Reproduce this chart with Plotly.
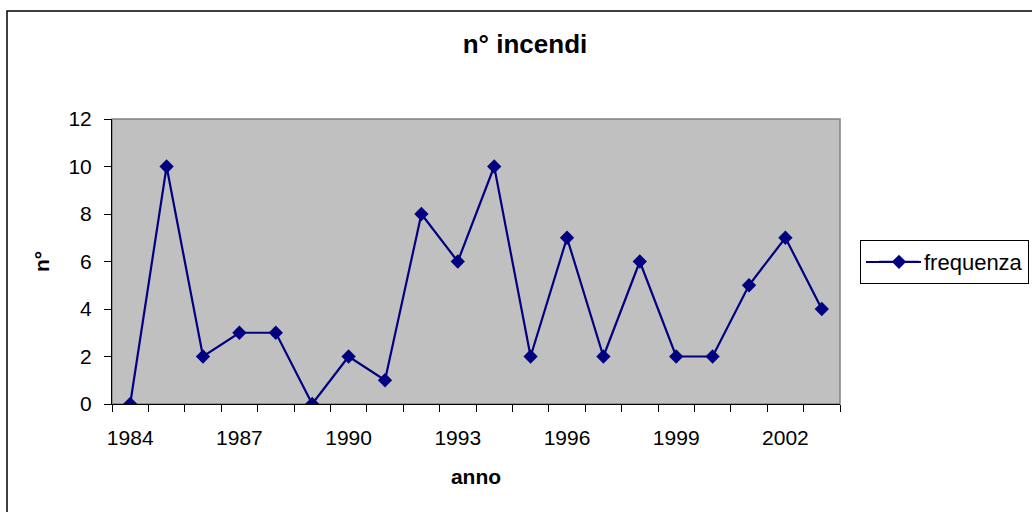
import plotly.graph_objects as go

years = list(range(1984, 2004))
frequenza = [0, 10, 2, 3, 3, 0, 2, 1, 8, 6, 10, 2, 7, 2, 6, 2, 2, 5, 7, 4]
label_years = years[::3]
y_ticks = [0, 2, 4, 6, 8, 10, 12]

title_text = "n° incendi"
x_title = "anno"
y_title = "n°"
series_name = "frequenza"

FONT = "Liberation Sans, Arial, sans-serif"
NAVY = "#000080"
L, R, T, B = 112, 1032 - 840, 119, 512 - 404
PW, PH = 840 - L, 404 - T


def px_x(p):
    return (p - L) / PW


def px_y(p):
    return 1 - (p - T) / PH


fig = go.Figure()
fig.add_trace(go.Scatter(
    x=years, y=frequenza, name=series_name, mode="lines+markers",
    line=dict(color=NAVY, width=2.2),
    marker=dict(symbol="diamond", size=11, color=NAVY),
))

fig.update_layout(
    width=1032, height=512,
    margin=dict(l=L, r=R, t=T, b=B, autoexpand=False),
    paper_bgcolor="white", plot_bgcolor="#C0C0C0",
    font=dict(family=FONT, size=21, color="black"),
    title=dict(text=title_text, x=525 / 1032, xanchor="center", xref="container",
               y=1 - 44 / 512, yanchor="middle", yref="container",
               font=dict(family=FONT, size=26, color="black", weight="bold")),
    showlegend=True,
    legend=dict(x=px_x(860), xanchor="left", y=px_y(262), yanchor="middle",
                bordercolor="black", borderwidth=1, bgcolor="rgba(0,0,0,0)",
                font=dict(family=FONT, size=22, color="black"),
                indentation=13, itemwidth=40, tracegroupgap=0),
    xaxis=dict(range=[years[0] - 0.5, years[-1] + 0.5], tickmode="array",
               tickvals=label_years, ticktext=[str(y) for y in label_years],
               ticks="", showgrid=False, zeroline=False,
               showline=True, linecolor="black", linewidth=1,
               ticklabelstandoff=15,
               minor=dict(tickmode="array",
                          tickvals=[y - 0.5 for y in years] + [years[-1] + 0.5],
                          ticks="outside", ticklen=7, tickcolor="black", tickwidth=1,
                          showgrid=False),
               title=dict(text=x_title, standoff=21,
                          font=dict(family=FONT, size=21, color="black", weight="bold"))),
    yaxis=dict(range=[0, 12], tickmode="array", tickvals=y_ticks,
               ticks="outside", ticklen=7, tickcolor="black", tickwidth=1,
               showgrid=False, zeroline=False,
               showline=True, linecolor="black", linewidth=1,
               ticklabelstandoff=8,
               title=dict(text=y_title, standoff=13,
                          font=dict(family=FONT, size=21, color="black", weight="bold"))),
    shapes=[
        dict(type="rect", xref="paper", yref="paper", x0=0, x1=1, y0=0, y1=1,
             line=dict(color="#808080", width=1.5), layer="below"),
        dict(type="rect", xref="paper", yref="paper",
             x0=px_x(7), x1=px_x(1045), y0=px_y(525), y1=px_y(11),
             line=dict(color="black", width=1.5), fillcolor="rgba(0,0,0,0)"),
        dict(type="line", xref="paper", yref="paper",
             x0=px_x(866), x1=px_x(921), y0=px_y(262), y1=px_y(262),
             line=dict(color=NAVY, width=2.2)),
    ],
)

fig.write_html("out.html", config={"displayModeBar": False},
               post_script="document.body.style.margin='0';")
